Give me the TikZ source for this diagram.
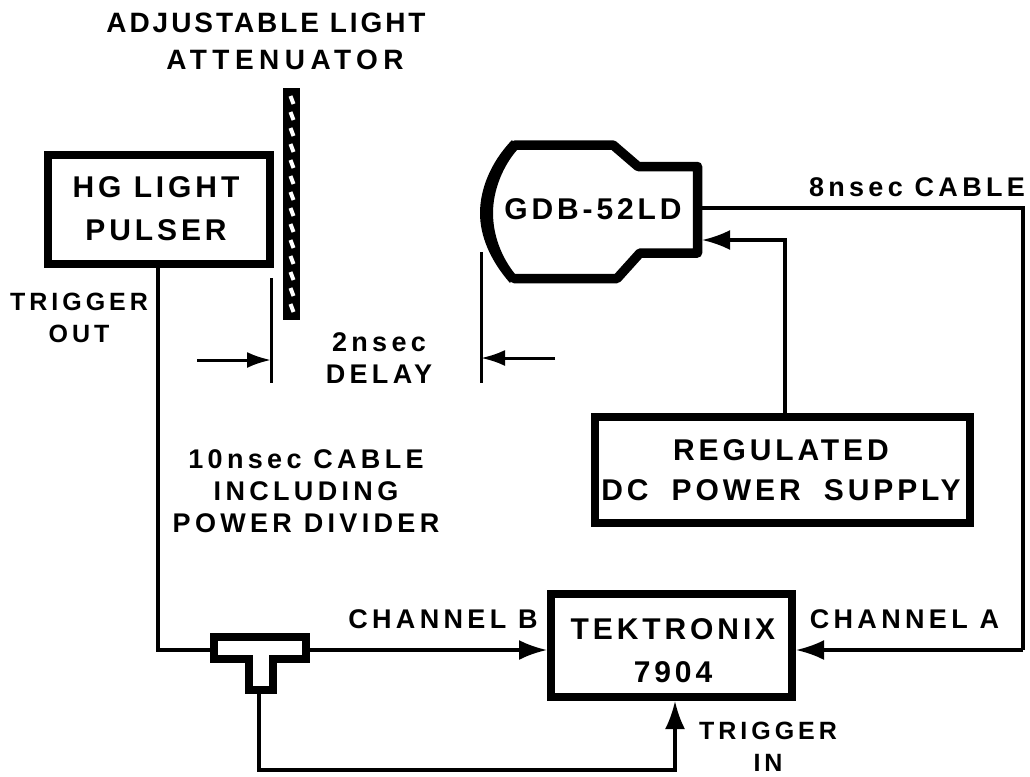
\documentclass[tikz,border=0pt]{standalone}
\usepackage{fontspec}
\setmainfont{Liberation Sans}[LetterSpace=13]
\newfontfamily\titlefont{Liberation Sans}[LetterSpace=10.5]
\newfontfamily\widefont{Liberation Sans}[LetterSpace=19.5]
\newfontfamily\smallfont{Liberation Sans}[LetterSpace=16]
\usetikzlibrary{positioning}
\usetikzlibrary{arrows.meta}
\tikzset{lbl/.style={font=\fontsize{30}{43}\selectfont\bfseries, align=center, inner sep=0pt}}
\tikzset{ttl/.style={font=\titlefont\fontsize{28}{37}\selectfont\bfseries, align=center, inner sep=0pt}}
\tikzset{sml/.style={font=\smallfont\fontsize{27}{32}\selectfont\bfseries, align=center, inner sep=0pt}}
\tikzset{trg/.style={font=\smallfont\fontsize{25}{32}\selectfont\bfseries, align=center, inner sep=0pt}}
\tikzset{unit/.style={rectangle, draw=black, line width=8pt, inner sep=0pt}}
\tikzset{wire/.style={line width=3.2pt}}
\tikzset{arr/.style={wire, -{Latex[length=28pt, width=20pt]}}}
\tikzset{mark line/.style={line width=3pt}}

\begin{document}
\begin{tikzpicture}[x=1pt, y=-1pt]
		\useasboundingbox (0,0) rectangle (1030,776);
		\node[unit, minimum width=222pt, minimum height=109pt] at (159,209.5) (pulser) {};
		\node[lbl] at (156,209) (pulser-text) {HG LIGHT\\PULSER};
		\node[unit, minimum width=375pt, minimum height=106pt] at (782.5,470) (supply) {};
		\node[lbl, font=\fontsize{30}{40}\selectfont\bfseries] at (781,470) (supply-text) {REGULATED\\DC\hspace{11pt} POWER\hspace{11pt} SUPPLY};
		\node[unit, minimum width=241pt, minimum height=103pt] at (671.5,645.5) (scope) {};
		\node[lbl] at (673,651) (scope-text) {TEKTRONIX\\7904};

		% attenuator
		\node[rectangle, fill=black, minimum width=17pt, minimum height=232pt, inner sep=0pt] at (291.5,204) (atten) {};
		\foreach \y in {96,112,...,312}
			\draw[white, line width=4pt] (290.5,\y) -- (293.5,\y+8);

		% tube
		\coordinate (tube-out) at (702,208);
		\coordinate (tube-in) at (702,240);
		\draw[line width=9.5pt, line join=round, line cap=round] (515,145) -- (613,145) -- (638,166.5) -- (697.5,166.5) -- (697.5,253) -- (640,253) -- (617,278.5) -- (514,278.5);
		\fill[black] (512,140) .. controls (490,163) and (480,190) .. (480,213) .. controls (480,236) and (490,260) .. (510,283)
			-- (515,274) .. controls (502,258) and (493,236) .. (493,213) .. controls (493,190) and (503,166) .. (517,150) -- cycle;
		\node[lbl] at (593,209) (tube) {GDB-52LD};

		% tee
		\draw[line width=8pt, line join=miter] (214,637) -- (306,637) -- (306,659) -- (273,659) -- (273,690) -- (249,690) -- (249,659) -- (214,659) -- cycle;
		\coordinate (tee-left) at (210,650);
		\coordinate (tee-right) at (310,650);
		\coordinate (tee-bottom) at (259,694);

		% cables
		\draw[wire, line join=miter] (tube-out) -- (1023,208) -- (1023,650) coordinate (right-bend);
		\draw[arr] (right-bend) -- (scope.east |- right-bend);
		\draw[arr] ([xshift=2.5pt]supply.north) |- (tube-in);
		\draw[wire] ([xshift=-1pt]pulser.south) -- (158,650) -- (tee-left);
		\draw[arr] (tee-right) -- (scope.west |- tee-right);
		\draw[arr] (tee-bottom) |- (675,770) -- ([xshift=3.5pt]scope.south);

		% delay marks
		\coordinate (mark-a) at (271,360);
		\coordinate (mark-b) at (481,358);
		\draw[mark line] (271,278) -- (271,383);
		\draw[mark line] (481,252) -- (481,383);
		\draw[mark line, -{Latex[length=24pt, width=16pt]}] (197,360) -- (mark-a);
		\draw[mark line, -{Latex[length=24pt, width=16pt]}] (555,358) -- (mark-b);

		% labels
		\node[ttl] at (266,23) (title) {ADJUSTABLE LIGHT};
		\node[ttl, font=\widefont\fontsize{28}{37}\selectfont\bfseries] at (285,60) (title-b) {ATTENUATOR};
		\node[trg] at (79,318) (trigger-out) {TRIGGER\\OUT};
		\node[sml] at (379,358) (delay) {2nsec\\DELAY};
		\node[sml] at (917,187) (cable-a) {8nsec CABLE};
		\node[sml] at (306,491) (cable-b) {10nsec CABLE\\INCLUDING\\POWER DIVIDER};
		\node[sml] at (443,619) (chan-b) {CHANNEL B};
		\node[sml] at (904.5,619) (chan-a) {CHANNEL A};
		\node[trg] at (768,747) (trigger-in) {TRIGGER\\IN};
\end{tikzpicture}
\end{document}
